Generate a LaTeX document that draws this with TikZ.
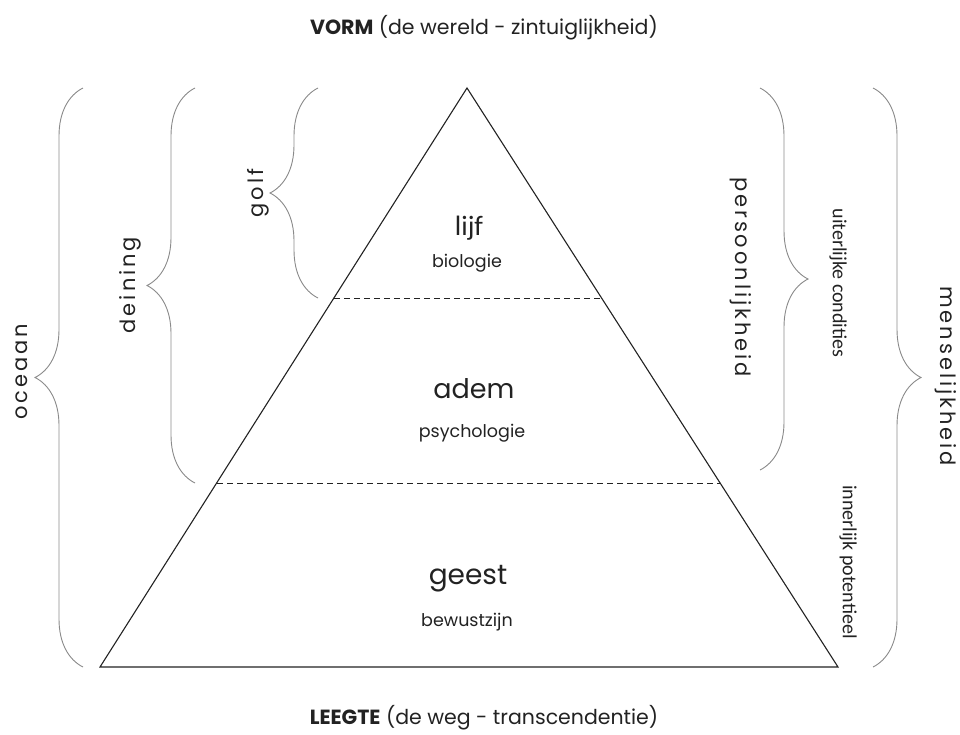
\documentclass[tikz,border=0pt]{standalone}
\usepackage{fontspec}
\setmainfont{Poppins}
\newfontfamily\calfont{Carlito}
\usetikzlibrary{decorations.pathreplacing}
\definecolor{ink}{HTML}{222222}
\definecolor{bracegray}{HTML}{8A8A8A}
\tikzset{
  x=1pt, y=1pt,
  cbrace/.style={draw=bracegray, line width=0.9pt, decorate, decoration={brace, amplitude=48pt}},
  title/.style={text=ink, font=\fontsize{20.5}{24}\selectfont, inner sep=0pt},
  big/.style={text=ink, font=\fontsize{27}{31}\selectfont, inner sep=0pt},
  small/.style={text=ink, font=\fontsize{17.5}{21}\selectfont, inner sep=0pt},
  side/.style={text=ink, font=\fontsize{21}{24}\selectfont\addfontfeature{LetterSpace=14}, inner sep=0pt},
  note/.style={text=ink, font=\calfont\fontsize{20}{24}\selectfont, inner sep=0pt},
  dashline/.style={draw=ink, line width=1pt, dash pattern=on 6pt off 4pt},
}
\begin{document}
\begin{tikzpicture}
\useasboundingbox (0,0) rectangle (960,-734);
% pyramid
\coordinate (apex) at (467,-88);
\coordinate (bl) at (100,-667);
\coordinate (br) at (838,-667);
\draw[ink, line width=1.1pt] (apex) -- (bl) -- (br) -- cycle;
\coordinate (d1l) at (334,-298);
\coordinate (d1r) at (602,-298);
\coordinate (d2l) at (217,-483);
\coordinate (d2r) at (720,-483);
\draw[dashline] (d1l) -- (d1r);
\draw[dashline] (d2l) -- (d2r);
% titles
\node[title] (vorm) at (484,-28) {\textbf{VORM} (de wereld - zintuiglijkheid)};
\node[title] (leegte) at (484,-718) {\textbf{LEEGTE} (de weg - transcendentie)};
% layer labels
\node[big, font=\calfont\fontsize{28}{32}\selectfont] (lijf) at (469,-228) {lijf};
\node[small] (bio) at (467,-263) {biologie};
\node[big] (adem) at (474,-389) {adem};
\node[small] (psy) at (472,-433) {psychologie};
\node[big, font=\fontsize{28}{32}\selectfont] (geest) at (468,-579) {geest};
\node[small] (bew) at (467,-622) {bewustzijn};
% left braces
\draw[cbrace] (83,-667) -- (83,-88);
\draw[cbrace] (195,-483) -- (195,-88);
\draw[cbrace] (318,-298) -- (318,-88);
\node[side, rotate=90] (oceaan) at (22,-372) {oceaan};
\node[side, rotate=90] (deining) at (130,-285) {deining};
\node[side, rotate=90] (golf) at (258,-193) {golf};
% right braces
\draw[cbrace] (760,-88) -- (760,-470);
\draw[cbrace] (873,-88) -- (873,-667);
\node[side, rotate=-90] (pers) at (741,-277) {persoonlijkheid};
\node[side, rotate=-90] (mens) at (946,-376) {menselijkheid};
\node[note, rotate=-90] (uit) at (838,-283) {uiterlijke condities};
\node[note, rotate=-90] (inn) at (848,-562) {innerlijk potentieel};
\end{tikzpicture}
\end{document}
